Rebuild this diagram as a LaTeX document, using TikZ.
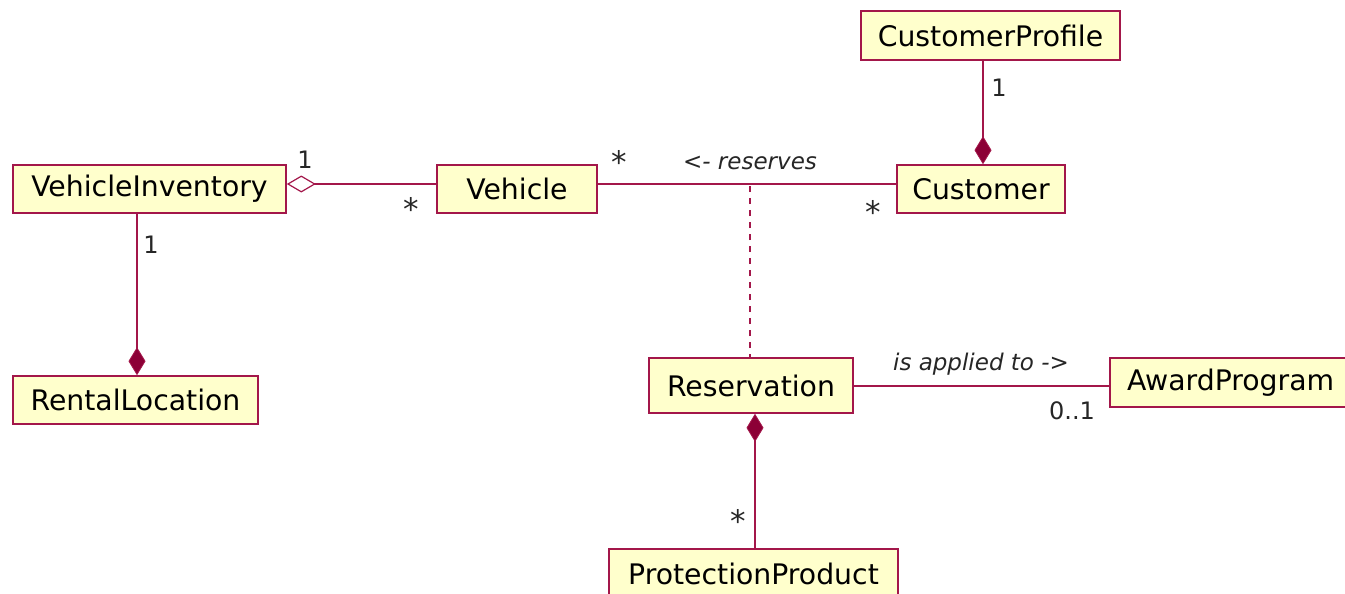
\documentclass[tikz,border=0pt]{standalone}
\usepackage{fontspec}
\setmainfont{DejaVu Sans}
\usetikzlibrary{arrows.meta,calc}
\definecolor{umlline}{HTML}{A3174A}
\definecolor{umlfill}{HTML}{FFFFCC}
\definecolor{umldiam}{HTML}{8C0036}
\tikzset{
  cls/.style={draw=umlline, line width=1.6pt, fill=umlfill, inner sep=0pt,
              font=\fontsize{28.3}{32}\selectfont, text=black},
  assoc/.style={draw=umlline, line width=1.6pt},
  mult/.style={font=\fontsize{24}{28}\selectfont, inner sep=0pt, text=black!85},
  many/.style={font=\fontsize{31}{34}\selectfont, inner sep=0pt, text=black!85},
  role/.style={font=\itshape\fontsize{23}{27}\selectfont, inner sep=0pt, text=black!85},
  comp/.style={{Diamond[length=28pt,width=17pt,fill=umldiam,line width=0.8pt]}-},
  aggr/.style={{Diamond[length=29pt,width=17pt,fill=white,line width=1.2pt]}-},
}
\begin{document}
\begin{tikzpicture}[x=1pt,y=-1pt]
  \useasboundingbox (0,0) rectangle (1345,594);

  % classes
  \node[cls, minimum width=273pt, minimum height=48pt] (vi) at (149.5,189) {VehicleInventory};
  \node[cls, minimum width=160pt, minimum height=48pt] (ve) at (517,189) {Vehicle};
  \node[cls, minimum width=168pt, minimum height=48pt] (cu) at (981,189) {Customer};
  \node[cls, minimum width=259pt, minimum height=49pt] (cp) at (990.5,35.5) {CustomerProfile};
  \node[cls, minimum width=245pt, minimum height=48pt] (rl) at (135.5,400) {RentalLocation};
  \node[cls, minimum width=204pt, minimum height=55pt] (re) at (751,385.5) {Reservation};
  \node[cls, minimum width=244pt, minimum height=49pt, text width=210pt, align=left] (ap) at (1232,382.5) {AwardProgram};
  \node[cls, minimum width=289pt, minimum height=50pt] (pp) at (753.5,574) {ProtectionProduct};

  % associations
  \draw[assoc, aggr] ([yshift=5pt]vi.east) -- ([yshift=5pt]ve.west);
  \draw[assoc] ([yshift=5pt]ve.east) -- ([yshift=5pt]cu.west);
  \draw[assoc, comp] ([xshift=2pt]cu.north) -- ([xshift=2pt]cu.north |- cp.south);
  \draw[assoc, comp] ([xshift=1.5pt]rl.north) -- ([xshift=1.5pt]rl.north |- vi.south);
  \draw[assoc, comp] ([xshift=4pt]re.south) -- ([xshift=4pt]re.south |- pp.north);
  \draw[assoc] ([yshift=-0.5pt]re.east) -- ([yshift=-0.5pt]re.east -| ap.west);
  \coordinate (rv) at (750,186);
  \draw[assoc, line width=2pt, dash pattern=on 6pt off 6pt, dash phase=3pt] (re.north -| rv) -- (rv);

  % multiplicities and association names
  \node[mult] (m1) at (305,160) {1};
  \node[many] (m2) at (411,209) {*};
  \node[many] (m3) at (619,162) {*};
  \node[role] (n1) at (750,163) {<- reserves};
  \node[many] (m4) at (873,212) {*};
  \node[mult] (m5) at (999,88) {1};
  \node[mult] (m6) at (151,245) {1};
  \node[role] (n2) at (981,364) {is applied to ->};
  \node[mult] (m7) at (1072,411) {0..1};
  \node[many] (m8) at (738,521) {*};
\end{tikzpicture}
\end{document}
